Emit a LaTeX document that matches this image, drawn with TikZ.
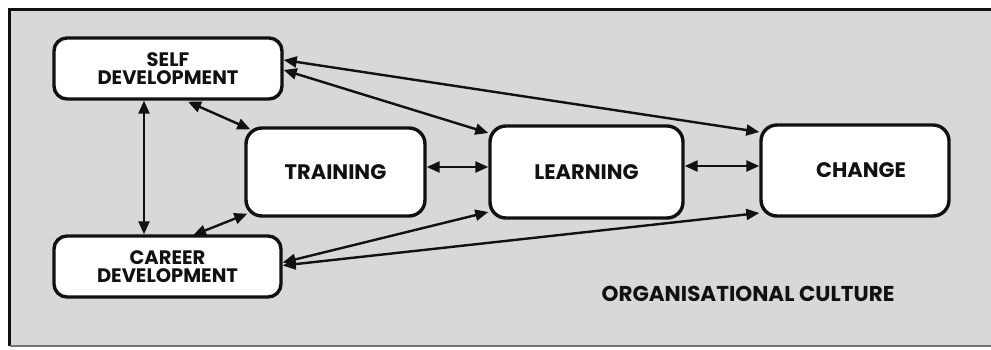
\documentclass[tikz,border=0pt]{standalone}
\usepackage{fontspec}
\setmainfont{Poppins}
\usetikzlibrary{arrows.meta}
\definecolor{panel}{HTML}{D8D8D8}
\definecolor{ink}{HTML}{111111}
\tikzset{
  unitbox/.style={draw=ink, line width=3.4pt, fill=white, rounded corners=16pt,
    inner sep=0pt, align=center, text=ink, font=\bfseries\fontsize{21}{22}\selectfont},
  smallbox/.style={unitbox, rounded corners=13pt, font=\bfseries\fontsize{19.5}{18.5}\selectfont},
  link/.style={draw=ink, line width=2.4pt,
    {Triangle[length=13pt,width=11pt]}-{Triangle[length=13pt,width=11pt]}}
}
\begin{document}
\begin{tikzpicture}[x=1pt,y=-1pt]
  \useasboundingbox (0,0) rectangle (991,349);
  % background panel with its frame
  \fill[panel] (9.5,9.5) rectangle (991,346);
  \draw[ink, line width=3pt] (991,9.5) -- (9.5,9.5) -- (9.5,346);
  \draw[black!55, line width=1.5pt] (9.5,346) -- (991,346);

  % boxes
  \node[smallbox, minimum width=228pt, minimum height=61pt] (self) at (168,68.5) {SELF\\DEVELOPMENT};
  \node[smallbox, minimum width=227pt, minimum height=61pt] (career) at (167.5,266.5) {CAREER\\DEVELOPMENT};
  \node[unitbox, minimum width=179pt, minimum height=88pt] (training) at (335.5,172) {TRAINING};
  \node[unitbox, minimum width=193pt, minimum height=92pt] (learning) at (586.5,172) {LEARNING};
  \node[unitbox, minimum width=188pt, minimum height=91pt] (change) at (855,170.5) {\hspace*{12pt}CHANGE};

  \node[text=ink, font=\bfseries\fontsize{21.5}{22}\selectfont] (culture) at (748,294) {ORGANISATIONAL CULTURE};

  % connectors
  \draw[link] ([shift={(-24,0)}]self.south) -- ([shift={(-23.5,0)}]career.north);
  \draw[link] ([shift={(20,1)}]self.south) -- ([shift={(6,3)}]training.north west);
  \draw[link] ([shift={(25.5,1)}]career.north) -- ([shift={(3,-4)}]training.south west);
  \draw[link] ([shift={(0,1.5)}]self.east) -- ([shift={(0,-39)}]learning.west);
  \draw[link] ([shift={(0,-8.5)}]self.east) -- ([shift={(0,-38.5)}]change.west);
  \draw[link] ([shift={(0,-4)}]career.east) -- ([shift={(0,40)}]learning.west);
  \draw[link] ([shift={(0,-1)}]career.east) -- ([shift={(0,42.5)}]change.west);
  \draw[link] ([shift={(0,-5)}]training.east) -- ([shift={(0,-5)}]learning.west);
  \draw[link] ([shift={(0,-6)}]learning.east) -- ([shift={(0,-4.5)}]change.west);
\end{tikzpicture}
\end{document}
